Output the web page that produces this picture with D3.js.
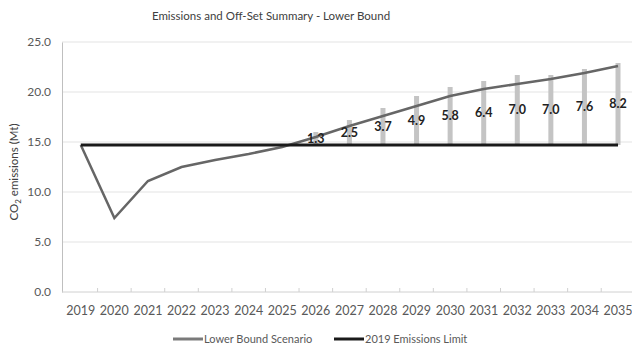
<!DOCTYPE html>
<html><head><meta charset="utf-8">
<script src="https://cdn.jsdelivr.net/npm/d3@7"></script>
<style>body{margin:0;background:#fff}svg{display:block;font-family:Lato,"Open Sans",sans-serif}</style>
</head><body><svg id="c" width="632" height="346"></svg>
<script>
const years = ["2019","2020","2021","2022","2023","2024","2025","2026","2027","2028","2029","2030","2031","2032","2033","2034","2035"];
const scenario = [14.7, 7.4, 11.1, 12.5, 13.2, 13.8, 14.5, 15.5, 16.6, 17.6, 18.6, 19.6, 20.3, 20.8, 21.3, 21.9, 22.6];
const limit = [14.7,14.7,14.7,14.7,14.7,14.7,14.7,14.7,14.7,14.7,14.7,14.7,14.7,14.7,14.7,14.7,14.7];
const offsetYears = ["2026","2027","2028","2029","2030","2031","2032","2033","2034","2035"];
const offsets = [1.3, 2.5, 3.7, 4.9, 5.8, 6.4, 7.0, 7.0, 7.6, 8.2];
const yTicks = [0, 5, 10, 15, 20, 25];

const svg = d3.select("#c");
const x = d3.scaleBand().domain(years).range([64, 634.8]);
const y = d3.scaleLinear().domain([0, 25]).range([292, 42]);
const cx = d => x(d) + x.bandwidth() / 2;
const limitOf = d => limit[years.indexOf(d)];

// gridlines
svg.append("g").selectAll("line").data(yTicks.filter(t => t > 0)).join("line")
  .attr("x1", 62).attr("x2", 632).attr("y1", d => y(d)).attr("y2", d => y(d))
  .attr("stroke", "#e3e3e3").attr("stroke-width", 1);

// y axis
const ya = svg.append("g").attr("transform", "translate(62,0)")
  .call(d3.axisLeft(y).tickValues(yTicks).tickFormat(d3.format(".1f")).tickSize(0).tickPadding(11));
ya.select(".domain").attr("stroke", "#bfbfbf");
ya.selectAll("text").attr("font-size", 12).attr("fill", "#595959").attr("font-family", "Lato");

// x axis
const xa = svg.append("g").attr("transform", "translate(0,292)")
  .call(d3.axisBottom(x).tickSize(0).tickPadding(14));
xa.select(".domain").attr("stroke", "#d0d0d0").attr("d", "M62,0H632");
xa.selectAll("text").attr("font-size", 12.5).attr("fill", "#595959").attr("font-family", "Lato");
svg.append("g").selectAll("line").data(years.slice(1)).join("line")
  .attr("x1", d => x(d)).attr("x2", d => x(d)).attr("y1", 288).attr("y2", 292)
  .attr("stroke", "#d0d0d0");

// offset bars
svg.append("g").selectAll("rect").data(offsetYears).join("rect")
  .attr("x", d => cx(d) - 2.5).attr("width", 5)
  .attr("y", (d, i) => y(limitOf(d) + offsets[i]))
  .attr("height", (d, i) => y(limitOf(d)) - y(limitOf(d) + offsets[i]))
  .attr("fill", "#c4c4c4");

// scenario line
svg.append("path").datum(years)
  .attr("d", d3.line().x(d => cx(d)).y((d, i) => y(scenario[i])))
  .attr("fill", "none").attr("stroke", "#666666").attr("stroke-width", 2.5);

// limit line
svg.append("path").datum(years)
  .attr("d", d3.line().x(d => cx(d)).y((d, i) => y(limit[i])))
  .attr("fill", "none").attr("stroke", "#1a1a1a").attr("stroke-width", 3);

// labels
svg.append("g").selectAll("text").data(offsetYears).join("text")
  .attr("x", d => cx(d)).attr("y", (d, i) => y(limitOf(d) + offsets[i] / 2))
  .attr("dy", "0.35em").attr("text-anchor", "middle")
  .attr("font-size", 12.5).attr("font-weight", "bold").attr("fill", "#222")
  .text((d, i) => d3.format(".1f")(offsets[i]));

// title
svg.append("text").attr("x", 271).attr("y", 20).attr("text-anchor", "middle")
  .attr("font-size", 11.5).attr("fill", "#404040").text("Emissions and Off-Set Summary - Lower Bound");

// y label
const yl = svg.append("text").attr("transform", "translate(18,172) rotate(-90)")
  .attr("text-anchor", "middle").attr("font-size", 11.5).attr("fill", "#404040");
yl.append("tspan").text("CO");
yl.append("tspan").attr("font-size", 8).attr("dy", 3).text("2");
yl.append("tspan").attr("dy", -3).text(" emissions (Mt)");

// legend
const leg = [{n: "Lower Bound Scenario", c: "#7a7a7a", x: 173}, {n: "2019 Emissions Limit", c: "#1a1a1a", x: 334}];
const lg = svg.append("g").selectAll("g").data(leg).join("g");
lg.append("line").attr("x1", d => d.x).attr("x2", d => d.x + 30).attr("y1", 339).attr("y2", 339)
  .attr("stroke", d => d.c).attr("stroke-width", 3);
lg.append("text").attr("x", d => d.x + 31).attr("y", 339).attr("dy", "0.35em")
  .attr("font-size", 11).attr("fill", "#595959").text(d => d.n);
</script></body></html>
